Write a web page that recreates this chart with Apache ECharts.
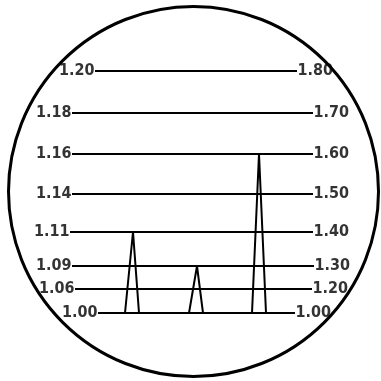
<!DOCTYPE html>
<html><head><meta charset="utf-8">
<script src="https://cdn.jsdelivr.net/npm/echarts@6/dist/echarts.min.js"></script>
<style>html,body{margin:0;padding:0;background:#fff}#c{width:381px;height:381px}</style>
</head><body><div id="c"></div>
<script>
// Tick labels (left and right scales) and the relative height of each level line
const leftLabels  = ['1.00','1.06','1.09','1.11','1.14','1.16','1.18','1.20'];
const rightLabels = ['1.00','1.20','1.30','1.40','1.50','1.60','1.70','1.80'];
const levelHeights = [0, 24, 47, 81, 119, 159, 200, 242];
// Peaks: left-scale level reached by each peak
const peakValues = ['1.11', '1.09', '1.16'];

// Layout (not data)
const lineStart = [98, 75, 72, 70, 72, 72, 72, 95];
const lineEnd   = [295, 312, 314, 313, 313, 313, 313, 297];
const peakGeom = [[125, 133, 139], [189, 197, 203], [252, 259, 266]];

const chart = echarts.init(document.getElementById('c'), null, {renderer: 'canvas'});
const font = {fontFamily: 'DejaVu Sans Condensed', fontWeight: 'bold', fontSize: 16, color: '#000'};
const series = [];
levelHeights.forEach((h, i) => {
  series.push({type: 'line', silent: true, symbol: 'none', animation: false,
    lineStyle: {color: '#000', width: 1.8},
    data: [[lineStart[i], h], [lineEnd[i], h]]});
});
peakValues.forEach((v, k) => {
  const h = levelHeights[leftLabels.indexOf(v)];
  const g = peakGeom[k];
  series.push({type: 'line', silent: true, symbol: 'none', animation: false,
    lineStyle: {color: '#000', width: 2},
    data: [[g[0], 0], [g[1], h], [g[2], 0]]});
});
series.push({type: 'scatter', symbolSize: 1, itemStyle: {color: 'rgba(0,0,0,0)'}, animation: false,
  data: levelHeights.map((h, i) => ({value: [lineStart[i], h], name: leftLabels[i]})),
  label: Object.assign({show: true, position: 'left', distance: 0, formatter: p => p.name}, font)});
series.push({type: 'scatter', symbolSize: 1, itemStyle: {color: 'rgba(0,0,0,0)'}, animation: false,
  data: levelHeights.map((h, i) => ({value: [lineEnd[i], h], name: rightLabels[i]})),
  label: Object.assign({show: true, position: 'right', distance: 0, formatter: p => p.name}, font)});

chart.setOption({
  animation: false,
  grid: {left: 0, right: 0, top: 0, bottom: 0},
  xAxis: {type: 'value', min: 0, max: 381, show: false},
  yAxis: {type: 'value', min: -68, max: 313, show: false},
  graphic: [{type: 'circle', shape: {cx: 193.5, cy: 191.5, r: 185},
    style: {fill: 'none', stroke: '#000', lineWidth: 3}, silent: true}],
  series: series
});
</script></body></html>
